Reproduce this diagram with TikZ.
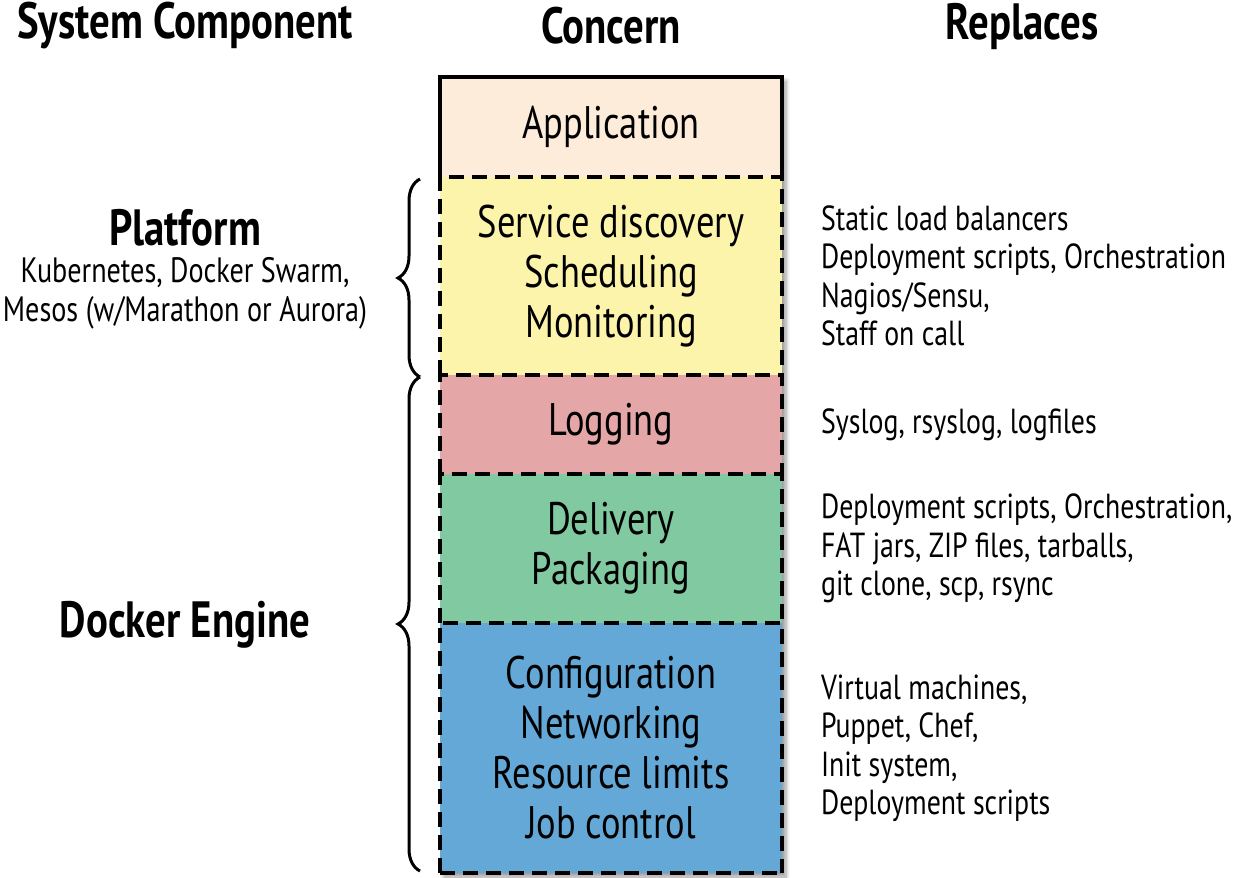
\documentclass[tikz,border=0pt]{standalone}
\usepackage{fontspec}
\setmainfont[FakeStretch=0.8]{PT Sans}
\usetikzlibrary{positioning,decorations.pathreplacing,backgrounds,fit,shadows.blur}
\definecolor{appfill}{RGB}{253,236,218}
\definecolor{svcfill}{RGB}{252,244,170}
\definecolor{logfill}{RGB}{228,166,167}
\definecolor{pkgfill}{RGB}{128,201,161}
\definecolor{cfgfill}{RGB}{99,168,215}

\begin{document}
\begin{tikzpicture}[x=0.5pt, y=-0.5pt,
	layer/.style={minimum width=171pt, inner sep=0pt, outer sep=0pt, align=center, font=\fontsize{22.8}{25}\selectfont},
	edge/.style={line width=2pt, line join=miter},
	dashline/.style={edge, dash pattern=on 7.5pt off 4pt},
	repl/.style={align=left, font=\fontsize{17.4}{19.25}\selectfont},
	sub/.style={align=center, font=\fontsize{17.6}{19.5}\selectfont},
	head/.style={font=\fontsize{25.5}{27}\selectfont\bfseries},
	curly/.style={decorate, decoration={brace, amplitude=11pt}, line width=1.5pt}]
	\useasboundingbox (0,0) rectangle (1234,877);
	% column heads
	\node[head] (hsys) at (185,26) {System Component};
	\node[head] (hcon) at (611,26) {Concern};
	\node[head] (hrep) at (1022,26) {Replaces};
	% the stack
	\node[layer, fill=appfill, minimum height=50pt] (app) at (611,127) {Application};
	\node[layer, fill=svcfill, minimum height=99pt, below=0pt of app] (svc) {Service discovery\\Scheduling\\Monitoring};
	\node[layer, fill=logfill, minimum height=49.5pt, below=0pt of svc] (log) {Logging};
	\node[layer, fill=pkgfill, minimum height=74.5pt, below=0pt of log] (pkg) {Delivery\\Packaging};
	\node[layer, fill=cfgfill, minimum height=125pt, below=0pt of pkg] (cfg) {Configuration\\Networking\\Resource limits\\Job control};
	\begin{scope}[on background layer]
		\node[fit=(app)(cfg), inner sep=0pt, fill=white, blur shadow={shadow xshift=2pt, shadow yshift=-2pt, shadow blur steps=6}] (stack) {};
	\end{scope}
	\draw[edge] (app.south west) |- (app.north east) -- (app.south east);
	\foreach \b in {svc,log,pkg,cfg}
		\draw[dashline] (\b.south west) |- (\b.north east) -- (\b.south east);
	\draw[dashline] (cfg.south west) -- (cfg.south east);
	% replaced tools
	\node[repl, right=16pt of svc] (rsvc) {Static load balancers\\Deployment scripts, Orchestration\\Nagios/Sensu,\\Staff on call};
	\node[repl, right=16pt of log] (rlog) {Syslog, rsyslog, logfiles};
	\node[repl, right=16pt of pkg] (rpkg) {Deployment scripts, Orchestration,\\FAT jars, ZIP files, tarballs,\\git clone, scp, rsync};
	\node[repl, right=16pt of cfg] (rcfg) {Virtual machines,\\Puppet, Chef,\\Init system,\\Deployment scripts};
	% system components
	\draw[curly] ([xshift=-10pt, yshift=-1pt]svc.south west) -- ([xshift=-10pt, yshift=-1pt]svc.north west);
	\draw[curly] ([xshift=-10pt, yshift=1pt]cfg.south west) -- ([xshift=-10pt, yshift=-1pt]log.north west);
	\node[head] (plat) at (185,228) {Platform};
	\node[sub] (platlist) at (185,293) {Kubernetes, Docker Swarm,\\Mesos (w/Marathon or Aurora)};
	\node[head] (dock) at (185,625) {Docker Engine};
\end{tikzpicture}
\end{document}
